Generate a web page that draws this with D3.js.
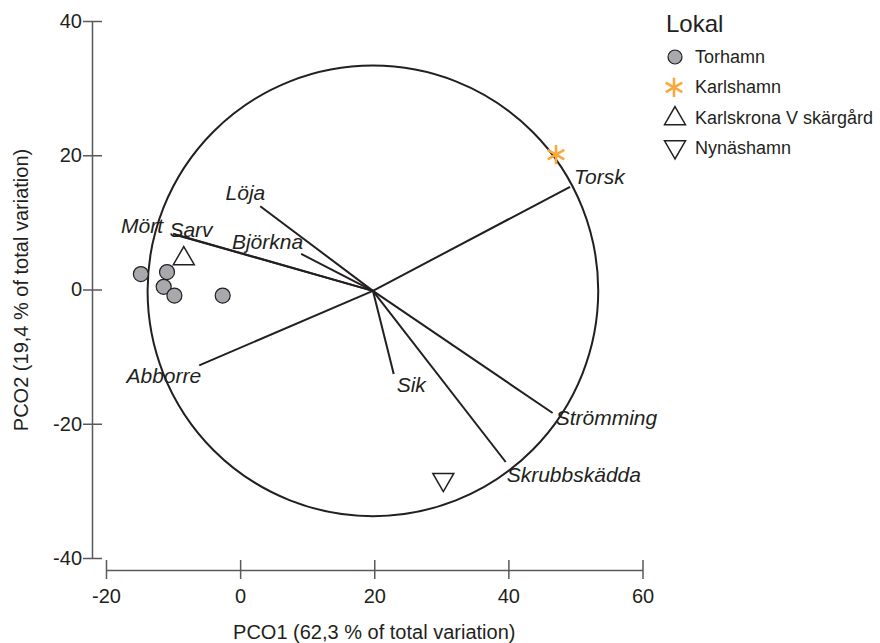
<!DOCTYPE html>
<html>
<head>
<meta charset="utf-8">
<script src="https://cdn.jsdelivr.net/npm/d3@7"></script>
<style>
  body { margin: 0; background: #fff; }
  text { font-family: "Liberation Sans", Arial, sans-serif; fill: #231f20; }
</style>
</head>
<body>
<script>
// sample scores (PCO1, PCO2)
var torhamn = [[-14.8, 2.3], [-10.9, 2.6], [-11.4, 0.4], [-9.8, -0.9], [-2.6, -0.9]];
var karlshamn = [[47.1, 20.1]];
var karlskrona = [[-8.4, 4.6]];
var nynashamn = [[30.3, -28.3]];

// species vectors (end points), all starting from vectorOrigin
var vectorOrigin = [19.8, -0.2];
var species = ["Torsk", "Löja", "Björkna", "Mört", "Sarv", "Abborre", "Sik", "Strömming", "Skrubbskädda"];
var vecX = [49.2, 3.0, 9.1, -10.0, -9.8, -6.1, 22.9, 46.6, 39.6];
var vecY = [15.3, 12.4, 5.3, 8.3, 8.2, -11.3, -12.6, -18.4, -25.7];
var circleRadius = 33.6;

var xTicks = [-20, 0, 20, 40, 60];
var yTicks = [-40, -20, 0, 20, 40];
var legendNames = ["Torhamn", "Karlshamn", "Karlskrona V skärgård", "Nynäshamn"];

// label placement relative to vector end [dx, dy, anchor]
var labelPos = {
  "Torsk": [4, -3, "start"],
  "Löja": [5, -6, "end"],
  "Björkna": [2, -5, "end"],
  "Mört": [-10, -1, "end"],
  "Sarv": [-5, 3, "start"],
  "Abborre": [2, 18, "end"],
  "Sik": [3, 18, "start"],
  "Strömming": [3, 12, "start"],
  "Skrubbskädda": [1, 20, "start"]
};

var width = 880, height = 643;
var ink = "#231f20", axisCol = "#58595b", grey = "#a7a9ac", orange = "#f9a93c";

var svg = d3.select("body").append("svg")
    .attr("width", width)
    .attr("height", height);

var x = d3.scaleLinear().domain([-20, 60]).range([106, 642.5]);
var y = d3.scaleLinear().domain([-40, 40]).range([558, 21]);

//axes
var yAxis = svg.append("g")
    .attr("transform", "translate(92,0)")
    .call(d3.axisLeft(y).tickValues(yTicks).tickFormat(String)
      .tickSize(9).tickSizeOuter(0).tickPadding(1));
yAxis.selectAll(".tick line").attr("x1", 10);

var xAxis = svg.append("g")
    .attr("transform", "translate(0,570)")
    .call(d3.axisBottom(x).tickValues(xTicks).tickFormat(String)
      .tickSize(9).tickSizeOuter(0).tickPadding(10));
xAxis.selectAll(".tick line").attr("y1", -10);

svg.selectAll(".domain, .tick line")
    .attr("stroke", axisCol)
    .attr("stroke-width", 1.5);
svg.selectAll(".tick text")
    .style("font-size", "20px")
    .attr("fill", ink);

//axis titles
svg.append("text")
    .attr("x", x(20))
    .attr("y", 639)
    .attr("text-anchor", "middle")
    .style("font-size", "20px")
    .text("PCO1 (62,3 % of total variation)");

svg.append("text")
    .attr("transform", "translate(28,290) rotate(-90)")
    .attr("text-anchor", "middle")
    .style("font-size", "20px")
    .text("PCO2 (19,4 % of total variation)");

//correlation circle
svg.append("circle")
    .attr("cx", x(vectorOrigin[0]))
    .attr("cy", y(vectorOrigin[1]))
    .attr("r", x(circleRadius) - x(0))
    .attr("fill", "none")
    .attr("stroke", ink)
    .attr("stroke-width", 2);

//vectors
species.forEach(function(name, i) {
  svg.append("line")
      .attr("x1", x(vectorOrigin[0]))
      .attr("y1", y(vectorOrigin[1]))
      .attr("x2", x(vecX[i]))
      .attr("y2", y(vecY[i]))
      .attr("stroke", ink)
      .attr("stroke-width", 2);
});

species.forEach(function(name, i) {
  var p = labelPos[name];
  svg.append("text")
      .attr("x", x(vecX[i]) + p[0])
      .attr("y", y(vecY[i]) + p[1])
      .attr("text-anchor", p[2])
      .style("font-size", "21px")
      .style("font-style", "italic")
      .text(name);
});

//points
var triangle = d3.symbol().type(d3.symbolTriangle).size(190);
var asterisk = d3.symbol().type(d3.symbolAsterisk).size(260);

svg.selectAll(".torhamn").data(torhamn).enter().append("circle")
    .attr("cx", function(d) { return x(d[0]); })
    .attr("cy", function(d) { return y(d[1]); })
    .attr("r", 7.5)
    .attr("fill", grey)
    .attr("stroke", ink)
    .attr("stroke-width", 1.2);

svg.selectAll(".karlshamn").data(karlshamn).enter().append("path")
    .attr("d", asterisk)
    .attr("transform", function(d) { return "translate(" + x(d[0]) + "," + y(d[1]) + ")"; })
    .attr("fill", "none")
    .attr("stroke", orange)
    .attr("stroke-width", 2.6);

svg.selectAll(".karlskrona").data(karlskrona).enter().append("path")
    .attr("d", triangle)
    .attr("transform", function(d) { return "translate(" + x(d[0]) + "," + y(d[1]) + ")"; })
    .attr("fill", "#fff")
    .attr("stroke", ink)
    .attr("stroke-width", 1.5);

svg.selectAll(".nynashamn").data(nynashamn).enter().append("path")
    .attr("d", triangle)
    .attr("transform", function(d) { return "translate(" + x(d[0]) + "," + y(d[1]) + ") rotate(180)"; })
    .attr("fill", "#fff")
    .attr("stroke", ink)
    .attr("stroke-width", 1.5);

//legend
var legend = svg.append("g").attr("transform", "translate(666,0)");
legend.append("text")
    .attr("x", 0)
    .attr("y", 32)
    .style("font-size", "24px")
    .text("Lokal");

legendNames.forEach(function(name, i) {
  var ly = 63 + i * 30.3;
  legend.append("text")
      .attr("x", 29)
      .attr("y", ly)
      .style("font-size", "18px")
      .text(name);
  var cy = ly - 6;
  if (i == 0) {
    legend.append("circle")
        .attr("cx", 9).attr("cy", cy).attr("r", 7)
        .attr("fill", grey).attr("stroke", ink).attr("stroke-width", 1.2);
  } else if (i == 1) {
    legend.append("path").attr("d", asterisk)
        .attr("transform", "translate(8," + cy + ")")
        .attr("fill", "none").attr("stroke", orange).attr("stroke-width", 2.6);
  } else {
    legend.append("path").attr("d", triangle)
        .attr("transform", "translate(9," + (i == 2 ? cy + 1 : cy - 1) + ")" + (i == 3 ? " rotate(180)" : ""))
        .attr("fill", "#fff").attr("stroke", ink).attr("stroke-width", 1.5);
  }
});
</script>
</body>
</html>
